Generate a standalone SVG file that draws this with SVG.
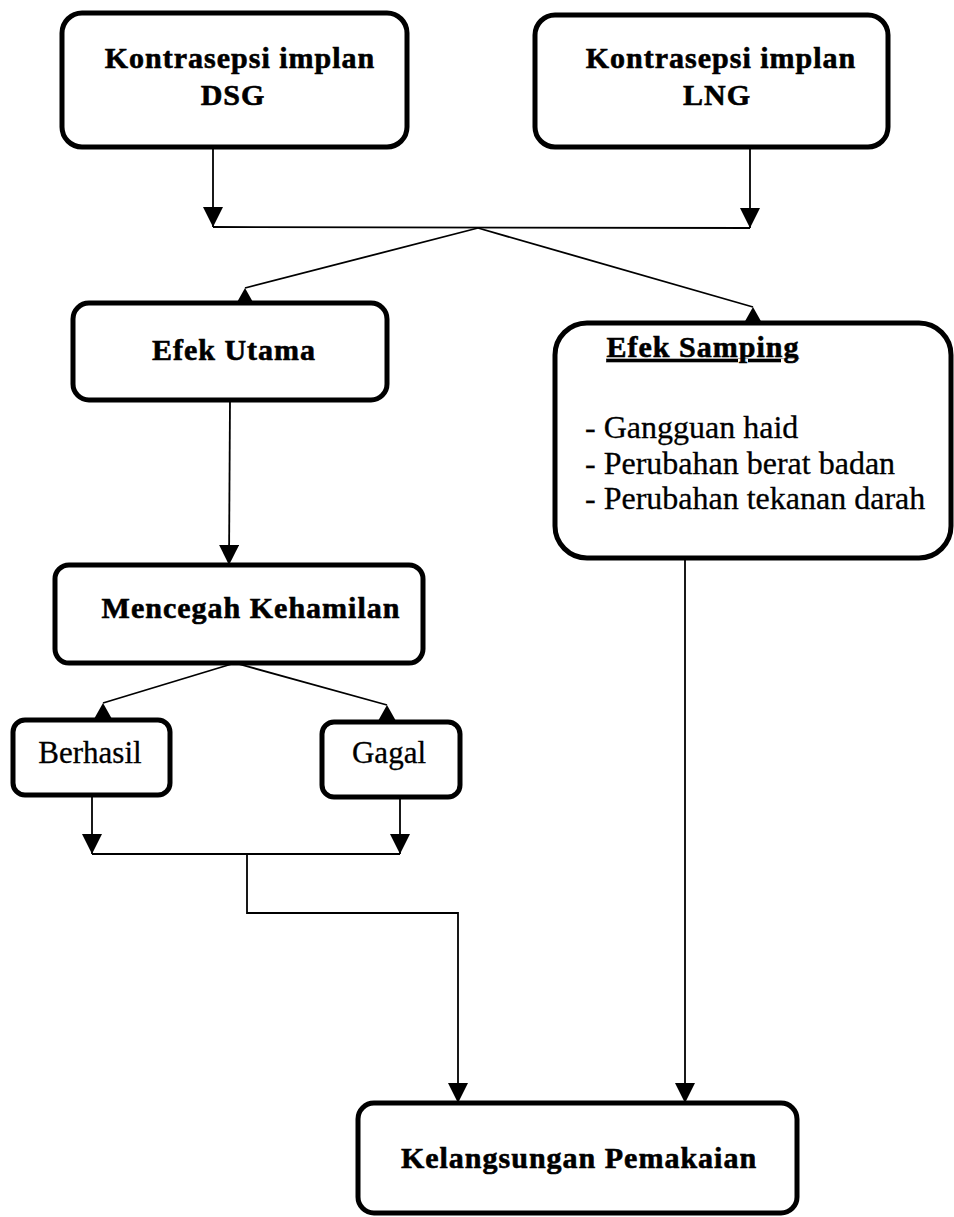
<svg xmlns="http://www.w3.org/2000/svg" width="954" height="1217" viewBox="0 0 954 1217">
  <style>
    .box { fill: #ffffff; stroke: #000000; stroke-width: 5; }
    .tb { font-family: "Liberation Serif", "Times New Roman", serif; font-weight: bold; font-size: 30px; letter-spacing: 1px; fill: #000; stroke: #000; stroke-width: 0.6; text-anchor: middle; }
    .tr { font-family: "Liberation Serif", "Times New Roman", serif; font-size: 31px; fill: #000; stroke: #000; stroke-width: 0.3; text-anchor: middle; }
    .tl { font-family: "Liberation Serif", "Times New Roman", serif; font-size: 32px; fill: #000; stroke: #000; stroke-width: 0.3; }
    .ln { fill: none; stroke: #000000; stroke-width: 1.8; }
  </style>
  <defs>
    <marker id="arrowDown" viewBox="0 0 20 20" refX="20" refY="10" markerWidth="20" markerHeight="20" markerUnits="userSpaceOnUse" orient="auto">
      <path d="M0,0 L20,10 L0,20 z" fill="#000"/>
    </marker>
    <marker id="triUp" viewBox="0 0 18 16" refX="9" refY="0" markerWidth="18" markerHeight="16" markerUnits="userSpaceOnUse" orient="0">
      <path d="M9,0 L18,16 L0,16 z" fill="#000"/>
    </marker>
  </defs>
  <rect width="954" height="1217" fill="#ffffff"/>

  <g id="connectors">
    <line class="ln" x1="213" y1="147" x2="213" y2="227" marker-end="url(#arrowDown)"/>
    <line class="ln" x1="750" y1="147" x2="750" y2="228" marker-end="url(#arrowDown)"/>
    <line class="ln" x1="213" y1="227" x2="750" y2="228"/>
    <line class="ln" x1="478" y1="228" x2="245" y2="288" marker-end="url(#triUp)"/>
    <line class="ln" x1="478" y1="228" x2="753" y2="307" marker-end="url(#triUp)"/>
    <line class="ln" x1="230" y1="400" x2="229" y2="565" marker-end="url(#arrowDown)"/>
    <line class="ln" x1="235" y1="663" x2="103" y2="703" marker-end="url(#triUp)"/>
    <line class="ln" x1="235" y1="663" x2="387" y2="705" marker-end="url(#triUp)"/>
    <line class="ln" x1="92" y1="795" x2="92" y2="854" marker-end="url(#arrowDown)"/>
    <line class="ln" x1="400" y1="797" x2="400" y2="854" marker-end="url(#arrowDown)"/>
    <line class="ln" x1="92" y1="854" x2="400" y2="854"/>
    <polyline class="ln" points="247,854 247,913 458,913 458,1103" marker-end="url(#arrowDown)"/>
    <line class="ln" x1="685" y1="558" x2="685" y2="1103" marker-end="url(#arrowDown)"/>
  </g>

  <g id="node-dsg">
    <rect class="box" x="62" y="13" width="345" height="134" rx="20"/>
    <text class="tb" x="240" y="68">Kontrasepsi implan</text>
    <text class="tb" x="233" y="105">DSG</text>
  </g>
  <g id="node-lng">
    <rect class="box" x="535" y="15" width="353" height="132" rx="20"/>
    <text class="tb" x="721" y="68">Kontrasepsi implan</text>
    <text class="tb" x="717" y="105">LNG</text>
  </g>
  <g id="node-efek-utama">
    <rect class="box" x="73" y="303" width="314" height="97" rx="16"/>
    <text class="tb" x="234" y="360">Efek Utama</text>
  </g>
  <g id="node-efek-samping">
    <rect class="box" x="555" y="323" width="396" height="235" rx="32"/>
    <text class="tb" x="703" y="357" text-decoration="underline">Efek Samping</text>
    <text class="tl" x="585" y="438">- Gangguan haid</text>
    <text class="tl" x="585" y="474">- Perubahan berat badan</text>
    <text class="tl" x="585" y="509">- Perubahan tekanan darah</text>
  </g>
  <g id="node-mencegah">
    <rect class="box" x="55" y="565" width="368" height="98" rx="14"/>
    <text class="tb" x="251" y="618">Mencegah Kehamilan</text>
  </g>
  <g id="node-berhasil">
    <rect class="box" x="13" y="720" width="157" height="75" rx="12"/>
    <text class="tr" x="90" y="763">Berhasil</text>
  </g>
  <g id="node-gagal">
    <rect class="box" x="322" y="722" width="138" height="75" rx="12"/>
    <text class="tr" x="389" y="763">Gagal</text>
  </g>
  <g id="node-kelangsungan">
    <rect class="box" x="358" y="1103" width="439" height="110" rx="16"/>
    <text class="tb" x="579" y="1168">Kelangsungan Pemakaian</text>
  </g>
</svg>
